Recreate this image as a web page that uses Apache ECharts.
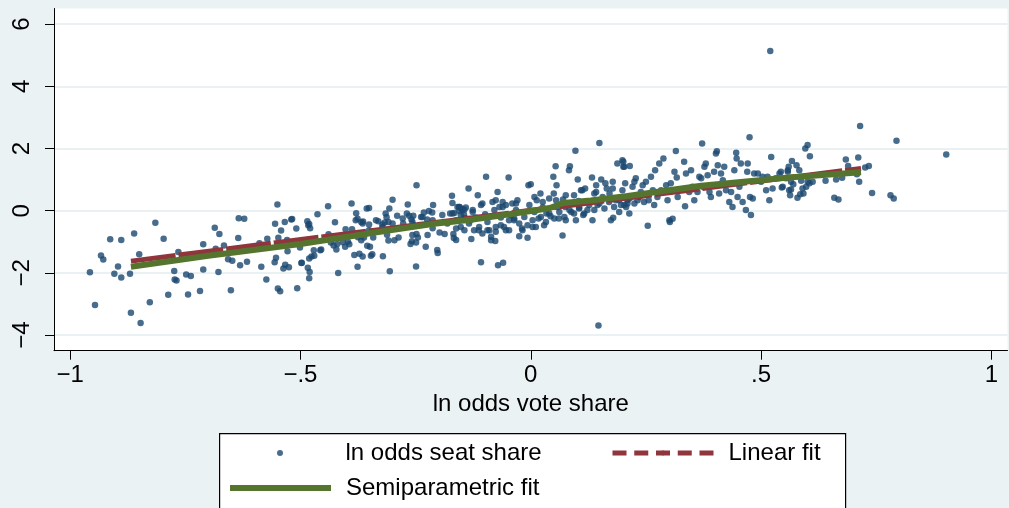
<!DOCTYPE html>
<html><head><meta charset="utf-8">
<script src="https://cdn.jsdelivr.net/npm/echarts@6/dist/echarts.min.js"></script>
<style>html,body{margin:0;padding:0;background:#eaf2f3;}#c{width:1009px;height:508px;}</style>
</head><body><div id="c"></div>
<script>
const xTicks = [-1, -0.5, 0, 0.5, 1];
const yTicks = [-4, -2, 0, 2, 4, 6];
const seriesNames = ['ln odds seat share', 'Linear fit', 'Semiparametric fit'];
const xAxisTitle = 'ln odds vote share';

// ln odds vote share, ln odds seat share
const seatShare = [
[-0.957,-1.98],[-0.946,-3.03],[-0.933,-1.44],[-0.928,-1.57],[-0.913,-0.92],[-0.904,-2.03],[-0.896,-1.79],[-0.889,-0.94],[-0.889,-2.15],[-0.870,-2.03],
[-0.868,-3.28],[-0.861,-0.73],[-0.850,-1.40],[-0.847,-3.61],[-0.827,-2.94],[-0.815,-0.39],[-0.797,-0.90],[-0.787,-2.70],[-0.774,-1.94],[-0.773,-2.21],
[-0.769,-2.24],[-0.765,-1.33],[-0.748,-2.05],[-0.744,-2.69],[-0.738,-2.10],[-0.718,-2.58],[-0.711,-1.08],[-0.711,-1.89],[-0.686,-0.55],[-0.684,-1.22],
[-0.678,-1.97],[-0.676,-0.75],[-0.666,-1.12],[-0.657,-1.56],[-0.651,-2.56],[-0.648,-1.61],[-0.635,-0.88],[-0.634,-0.24],[-0.631,-1.75],[-0.622,-0.26],
[-0.616,-1.64],[-0.589,-1.05],[-0.585,-1.80],[-0.574,-2.21],[-0.572,-0.90],[-0.556,-1.66],[-0.555,-0.42],[-0.553,-1.51],[-0.550,0.20],[-0.549,-2.50],
[-0.544,-2.59],[-0.548,-0.87],[-0.542,-0.64],[-0.537,-1.86],[-0.534,-0.36],[-0.533,-1.74],[-0.529,-0.94],[-0.528,-1.30],[-0.525,-1.82],[-0.520,-0.28],
[-0.518,-0.27],[-0.509,-0.57],[-0.507,-2.49],[-0.501,-1.18],[-0.498,-1.68],
[-0.485,-0.34],[-0.481,-0.43],[-0.479,-0.56],[-0.483,-0.47],[-0.497,-1.67],[-0.481,-1.54],[-0.476,-1.47],[-0.470,-1.45],[-0.484,-1.83],[-0.480,-1.97],
[-0.481,-2.17],[-0.471,-1.27],[-0.457,-1.27],[-0.455,-1.25],[-0.463,-0.11],[-0.440,0.14],[-0.425,-0.37],[-0.439,-0.76],[-0.434,-1.02],[-0.428,-1.12],
[-0.422,-1.25],[-0.420,-1.07],[-0.418,-2.00],[-0.402,-0.60],[-0.408,-1.01],[-0.403,-1.16],[-0.397,-1.00],[-0.394,-1.08],[-0.388,-0.60],[-0.389,0.23],
[-0.383,-1.42],[-0.372,-1.38],[-0.365,-1.47],[-0.376,-1.80],[-0.379,-0.08],[-0.376,-0.26],[-0.368,-0.36],[-0.364,-0.35],[-0.356,0.07],[-0.351,0.09],
[-0.351,-0.44],[-0.375,-0.85],[-0.368,-0.95],[-0.362,-0.86],[-0.355,-1.13],[-0.349,-1.16],[-0.347,-1.45],[-0.344,-1.40],[-0.342,-0.86],[-0.331,-0.34],
[-0.322,-0.44],[-0.317,-0.38],[-0.315,-0.09],[-0.313,-0.21],[-0.309,-0.36],[-0.307,0.07],[-0.300,0.35],[-0.321,-1.46],[-0.312,-0.77],[-0.309,-0.96],
[-0.296,-0.95],[-0.287,-0.86],[-0.306,-1.95],[-0.290,-0.16],[-0.277,-0.41],[-0.269,-0.09],[-0.267,0.20],[-0.264,-0.16],[-0.259,-0.28],[-0.255,-0.16],
[-0.253,-0.46],[-0.257,-0.78],[-0.261,-1.07],[-0.258,-0.98],[-0.249,-1.02],[-0.248,-0.75],[-0.245,-0.86],[-0.248,0.82],[-0.249,-1.79],[-0.238,-0.20],
[-0.232,-0.06],[-0.225,-0.28],[-0.221,-0.01],[-0.214,-0.06],[-0.212,0.18],[-0.228,-1.16],[-0.224,-0.78],[-0.213,-0.56],[-0.203,-1.26],[-0.202,-1.36],
[-0.198,-0.70],[-0.187,-0.75],[-0.181,-0.41],[-0.175,-0.09],[-0.171,0.48],[-0.170,0.25],[-0.166,-0.07],[-0.162,-0.57],[-0.162,-0.94],[-0.159,0.12],
[-0.155,-0.01],[-0.150,0.06],[-0.144,0.04],[-0.145,-0.12],[-0.141,-0.25],[-0.168,-0.75],[-0.167,-0.88],
[-0.380,-0.31],[-0.365,-0.41],[-0.351,-0.63],[-0.336,-0.31],[-0.322,-0.52],[-0.300,-0.41],[-0.278,-0.25],[-0.257,-0.36],[-0.235,-0.20],[-0.213,-0.31],[-0.192,-0.14],
[-0.155,0.12],[-0.148,0.02],[-0.152,-0.14],[-0.144,-0.25],[-0.141,0.10],[-0.135,0.71],[-0.126,-0.04],[-0.131,-0.31],[-0.119,-0.22],[-0.115,0.50],
[-0.113,-0.63],[-0.129,-0.91],[-0.108,-1.66],[-0.105,0.23],[-0.099,-0.11],[-0.097,1.09],[-0.094,-0.36],[-0.090,-0.63],[-0.086,-0.95],[-0.083,0.28],
[-0.079,0.02],[-0.077,-0.97],[-0.076,-0.52],[-0.072,0.60],[-0.071,-1.75],[-0.060,-1.67],[-0.068,0.12],[-0.065,-0.22],[-0.061,0.28],[-0.058,-0.52],
[-0.054,0.18],[-0.048,1.07],[-0.047,-0.63],[-0.043,-0.14],[-0.040,0.23],[-0.036,-0.31],[-0.032,0.02],[-0.029,0.34],[-0.025,-0.82],[-0.019,-0.57],
[-0.014,-0.20],[-0.007,-0.87],[-0.005,0.82],[0.000,0.85],[0.004,-0.52],[0.008,-0.04],[0.013,0.34],[0.017,-0.25],
[-0.170,-0.09],[-0.162,-0.31],[-0.152,-0.52],[-0.144,-0.63],[-0.134,-0.41],[-0.123,-0.63],[-0.112,-0.52],[-0.105,-0.73],[-0.094,-0.63],[-0.086,-0.84],
[-0.076,-0.68],[-0.065,-0.47],[-0.054,-0.63],[-0.047,-0.31],[-0.036,-0.25],[-0.025,-0.41],[-0.018,-0.63],[-0.007,-0.47],[0.004,-0.31],[0.011,-0.52],
[0.022,-0.20],[0.033,-0.36],[0.040,-0.09],[0.051,-0.25],[0.062,-0.04],[0.073,-0.20],[0.084,0.02],[0.094,-0.09],[0.105,0.07],[0.116,-0.09],
[0.127,0.18],[0.138,0.02],[0.149,0.23],[0.160,0.07],[0.170,0.28],[0.181,0.12],[0.192,0.34],[0.203,0.18],[0.214,0.39],[0.225,0.23],[0.236,0.44],[0.246,0.28],
[-0.155,0.12],[-0.126,0.02],[-0.108,0.18],[-0.076,0.34],[-0.061,0.12],[-0.032,0.23],[-0.003,0.18],[0.008,0.44],[0.026,0.28],[0.055,0.34],
[0.076,0.50],[0.112,0.66],[0.142,0.60],[0.178,0.71],
[0.021,0.55],[0.026,0.10],[0.029,-0.47],[0.034,-0.09],[0.040,0.39],[0.043,-0.18],[0.049,1.09],[0.050,0.55],[0.054,1.43],[0.056,0.82],
[0.058,0.12],[0.061,-0.25],[0.069,-0.80],[0.070,0.36],[0.075,0.12],[0.076,-0.31],[0.083,1.30],[0.085,1.43],[0.088,-0.04],[0.094,0.50],
[0.097,1.93],[0.098,-0.31],[0.102,1.00],[0.104,0.31],[0.105,0.10],
[0.109,0.66],[0.114,-0.14],[0.118,0.71],[0.123,0.02],[0.127,0.28],[0.133,1.07],[0.134,-0.31],[0.138,0.55],[0.142,0.82],[0.145,0.18],
[0.149,2.18],[0.153,1.00],[0.156,0.44],[0.162,0.88],[0.165,0.71],[0.171,0.55],[0.174,-0.31],[0.178,0.93],[0.179,-0.23],[0.185,0.34],
[0.188,1.52],[0.192,-0.04],[0.196,0.18],[0.199,1.62],[0.201,1.41],[0.205,0.88],[0.207,0.12],[0.210,0.34],[0.147,-3.69],
[0.201,1.57],[0.203,1.41],[0.215,1.44],[0.199,0.66],[0.207,0.44],[0.210,0.23],[0.214,-0.09],[0.221,0.77],[0.225,0.93],[0.228,1.04],
[0.232,0.34],[0.239,0.60],[0.243,0.82],[0.250,0.93],[0.254,-0.48],[0.256,0.34],[0.261,1.09],[0.265,0.66],[0.268,0.18],[0.270,1.30],
[0.275,0.44],[0.279,1.52],[0.283,0.66],[0.288,1.68],[0.294,0.82],[0.297,0.34],[0.301,-0.31],[0.302,-0.36],[0.304,0.88],[0.308,-0.26],
[0.312,1.25],[0.315,1.92],[0.317,1.07],[0.319,0.44],[0.322,0.66],[0.333,1.57],[0.335,0.14],[0.337,1.20],[0.344,0.60],[0.348,1.30],
[0.351,0.77],[0.355,0.34],[0.362,0.60],[0.366,1.09],[0.370,1.04],[0.372,2.16],[0.373,0.77],[0.377,1.41],[0.380,1.52],[0.384,1.14],
[0.388,0.60],[0.391,0.44],[0.395,0.82],[0.398,1.25],[0.402,1.84],[0.404,1.91],[0.406,1.46],[0.409,0.55],[0.413,1.20],[0.417,0.98],
[0.420,1.41],[0.424,0.66],[0.431,0.28],[0.435,0.60],[0.438,0.12],[0.442,1.30],[0.446,1.86],[0.447,1.68],[0.449,0.44],[0.453,0.77],
[0.456,1.52],[0.460,0.28],[0.467,0.02],[0.470,1.25],[0.471,1.52],[0.475,2.36],[0.476,0.44],[0.478,-0.14],[0.482,0.39],[0.485,1.20],
[0.493,1.20],[0.500,0.93],[0.503,1.09],[0.511,0.66],[0.514,1.09],[0.518,0.34],[0.522,1.73],[0.525,0.71],[0.532,1.04],[0.540,1.20],
[0.547,0.77],[0.554,1.04],[0.558,1.30],[0.520,5.13],
[0.543,1.25],[0.545,0.75],[0.558,1.25],[0.560,1.41],[0.567,1.60],[0.577,1.46],[0.583,1.30],[0.561,0.66],[0.565,0.68],[0.570,0.85],
[0.563,0.50],[0.579,0.42],[0.585,0.53],[0.592,0.55],[0.565,0.93],[0.587,0.96],[0.590,0.71],[0.598,0.77],[0.601,0.93],[0.605,0.88],
[0.612,0.93],[0.596,2.00],[0.601,2.11],[0.606,1.75],[0.640,0.96],[0.659,0.42],[0.668,0.36],[0.663,1.00],[0.676,1.06],[0.684,1.65],
[0.689,1.44],[0.708,1.17],[0.711,1.71],[0.713,0.93],[0.715,2.72],[0.726,1.39],[0.734,1.44],[0.741,0.57],[0.781,0.50],[0.788,0.39],
[0.794,2.25],[0.902,1.81]
];
const linearFit = [[-0.868,-1.62],[0.717,1.36]];
const semiparamFit = [[-0.868,-1.80],[-0.70,-1.45],[-0.50,-1.07],[-0.32,-0.66],[-0.21,-0.42],[-0.13,-0.29],[-0.05,-0.12],[0.04,0.08],[0.07,0.25],[0.13,0.33],[0.21,0.47],[0.37,0.80],[0.56,1.07],[0.717,1.24]];

const FONT = 'Liberation Sans, Arial, sans-serif';
function fmt(v) {
  if (v === 0) return '0';
  const a = Math.abs(v);
  const s = Number.isInteger(a) ? String(a) : String(a).replace(/^0/, '');
  return (v < 0 ? '\u2212' : '') + s;
}
const legendText = {fontSize: 24, color: '#000', fontFamily: FONT, padding: [0, 0, 0, 10]};
const chart = echarts.init(document.getElementById('c'), null, {renderer: 'canvas'});
chart.setOption({
  backgroundColor: '#eaf2f3',
  animation: false,
  grid: {left: 54, top: 8.5, right: 1.5, bottom: 157.3, show: true, backgroundColor: '#ffffff', borderWidth: 0},
  xAxis: {
    type: 'value', min: -1.035, max: 1.035,
    axisLine: {show: true, onZero: false, lineStyle: {color: '#000', width: 1}},
    axisTick: {show: true, customValues: xTicks, length: 9, lineStyle: {color: '#000', width: 1}},
    axisLabel: {customValues: xTicks, formatter: fmt, fontSize: 24, color: '#000', fontFamily: FONT, margin: 13},
    splitLine: {show: false},
    name: xAxisTitle, nameLocation: 'middle', nameGap: 39,
    nameTextStyle: {fontSize: 24, color: '#000', fontFamily: FONT}
  },
  yAxis: {
    type: 'value', min: -4.5, max: 6.5,
    axisLine: {show: true, onZero: false, lineStyle: {color: '#000', width: 1}},
    axisTick: {show: true, customValues: yTicks, length: 9, lineStyle: {color: '#000', width: 1}},
    axisLabel: {customValues: yTicks, formatter: fmt, rotate: 90, fontSize: 24, color: '#000', fontFamily: FONT, margin: 20},
    splitLine: {show: true, lineStyle: {color: '#e3ecef', width: 1.5}}
  },
  legend: [
    {left: 277, top: 441, itemWidth: 101, itemHeight: 6, textStyle: legendText, padding: 0,
     data: [{name: seriesNames[0], icon: 'circle'}]},
    {left: 230, top: 476, itemWidth: 101, itemHeight: 6, textStyle: legendText, padding: 0,
     lineStyle: {width: 6}, data: [{name: seriesNames[2], icon: 'rect'}]},
    {left: 610, top: 441, itemWidth: 101, itemHeight: 6, textStyle: legendText, padding: 0,
     lineStyle: {type: [14, 7.75], width: 5}, data: [seriesNames[1]]}
  ],
  graphic: [{type: 'rect', left: 219, top: 433, z: -1, shape: {width: 626, height: 100},
             style: {fill: '#ffffff', stroke: '#000', lineWidth: 1.2}}],
  series: [
    {name: seriesNames[0], type: 'scatter', data: seatShare, symbolSize: 6.5, itemStyle: {color: '#1a476f'}, z: 2},
    {name: seriesNames[1], type: 'line', data: linearFit, symbol: 'none', z: 3,
     itemStyle: {color: '#90353b'}, lineStyle: {color: '#90353b', width: 5, type: [45, 3]}},
    {name: seriesNames[2], type: 'line', data: semiparamFit, symbol: 'none', z: 4,
     itemStyle: {color: '#55752f'}, lineStyle: {color: '#55752f', width: 6}}
  ]
});
</script></body></html>
